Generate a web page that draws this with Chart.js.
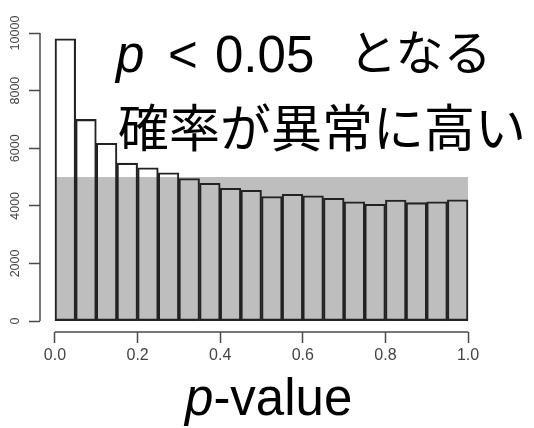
<!DOCTYPE html>
<html>
<head>
<meta charset="utf-8">
<script src="https://cdn.jsdelivr.net/npm/chart.js@4.4.1/dist/chart.umd.min.js"></script>
<style>
  html, body { margin: 0; padding: 0; background: #fff; }
  #wrap { position: relative; width: 534px; height: 428px; overflow: hidden; }
  #wrap canvas { position: absolute; left: 0; top: 0; }
  .txt { position: absolute; white-space: nowrap; color: #000; line-height: 1; }
  .lat { font-family: "Liberation Sans", Arial, sans-serif; }
  .jp { font-family: "Noto Sans CJK JP", sans-serif; }
</style>
</head>
<body>
<div id="wrap">
  <canvas id="pvalChart" width="534" height="428"></canvas>
  <!-- annotation, line 1: "p < 0.05 となる" -->
  <div class="txt lat" style="left:116px; top:29px; font-size:51px;"><i>p</i></div>
  <div class="txt lat" style="left:168px; top:29px; font-size:51px;">&lt;</div>
  <div class="txt lat" style="left:215px; top:29px; font-size:51px;">0.05</div>
  <div class="txt jp" style="left:349px; top:25px; font-size:48px;">となる</div>
  <!-- annotation, line 2 -->
  <div class="txt jp" style="left:118px; top:100px; font-size:51px;">確率が異常に高い</div>
  <!-- x axis title -->
  <div class="txt lat" style="left:185px; top:372px; font-size:51px;"><i>p</i>-value</div>
</div>
<script>
(function() {
    // histogram of p-values, 20 bins of width 0.05
    const binMids = [0.025, 0.075, 0.125, 0.175, 0.225, 0.275, 0.325, 0.375, 0.425, 0.475,
                     0.525, 0.575, 0.625, 0.675, 0.725, 0.775, 0.825, 0.875, 0.925, 0.975];
    const counts = [9800, 7000, 6170, 5480, 5320, 5150, 4950, 4780, 4610, 4540,
                    4320, 4400, 4350, 4260, 4140, 4050, 4200, 4110, 4140, 4210];
    // expected count under a uniform distribution
    const uniformLevel = 5000;
    const uniformRange = [0, 1];

    const xTicks = [0, 0.2, 0.4, 0.6, 0.8, 1.0];
    const xTickLabels = ['0.0', '0.2', '0.4', '0.6', '0.8', '1.0'];
    const yTicks = [0, 2000, 4000, 6000, 8000, 10000];
    const yTickLabels = ['0', '2000', '4000', '6000', '8000', '10000'];

    const axisColor = '#4a4a4a';
    const labelColor = '#444';

    // R-style axes: lines only between first and last tick, y labels rotated
    const rAxes = {
        id: 'rAxes',
        afterDraw(chart) {
            const { ctx, chartArea, scales: { x, y } } = chart;
            ctx.save();
            ctx.strokeStyle = axisColor;
            ctx.lineWidth = 1.5;
            ctx.beginPath();
            ctx.moveTo(chartArea.left, y.getPixelForValue(yTicks[0]));
            ctx.lineTo(chartArea.left, y.getPixelForValue(yTicks[yTicks.length - 1]));
            ctx.moveTo(x.getPixelForValue(xTicks[0]), chartArea.bottom);
            ctx.lineTo(x.getPixelForValue(xTicks[xTicks.length - 1]), chartArea.bottom);
            ctx.stroke();

            ctx.fillStyle = labelColor;
            ctx.font = '12.5px "Liberation Sans", Arial, sans-serif';
            ctx.textAlign = 'center';
            ctx.textBaseline = 'middle';
            y.ticks.forEach((t, i) => {
                ctx.save();
                ctx.translate(15.5, y.getPixelForValue(t.value));
                ctx.rotate(-Math.PI / 2);
                ctx.fillText(yTickLabels[i], 0, 0);
                ctx.restore();
            });
            ctx.restore();
        }
    };

    new Chart(document.getElementById('pvalChart'), {
        type: 'bar',
        data: {
            datasets: [{
                type: 'line',
                label: 'uniform',
                data: uniformRange.map(v => ({ x: v, y: uniformLevel })),
                backgroundColor: '#bebebe',
                borderWidth: 0,
                pointRadius: 0,
                fill: 'origin',
                order: 2
            }, {
                label: 'count',
                data: binMids.map((m, i) => ({ x: m, y: counts[i] })),
                backgroundColor: 'rgba(0,0,0,0)',
                borderColor: '#222',
                borderWidth: 1.4,
                borderSkipped: false,
                barPercentage: 1,
                categoryPercentage: 1,
                order: 1
            }]
        },
        options: {
            responsive: false,
            animation: false,
            layout: { padding: { left: 0, right: 54, top: 33, bottom: 0 } },
            plugins: {
                legend: { display: false },
                tooltip: { enabled: false },
                title: { display: false }
            },
            scales: {
                x: {
                    type: 'linear',
                    min: -0.0363,
                    max: 1.029,
                    offset: false,
                    afterBuildTicks: (scale) => { scale.ticks = xTicks.map(v => ({ value: v })); },
                    afterFit: (scale) => { scale.height = 96; },
                    border: { display: false },
                    grid: {
                        offset: false,
                        drawOnChartArea: false,
                        drawTicks: true,
                        tickLength: 11,
                        tickWidth: 1.5,
                        tickColor: axisColor
                    },
                    ticks: {
                        padding: 3,
                        color: labelColor,
                        font: { family: '"Liberation Sans", Arial, sans-serif', size: 16 },
                        maxRotation: 0,
                        callback: (value, index) => xTickLabels[index]
                    }
                },
                y: {
                    type: 'linear',
                    min: -380,
                    max: 10000,
                    afterBuildTicks: (scale) => { scale.ticks = yTicks.map(v => ({ value: v })); },
                    afterFit: (scale) => { scale.width = 40; },
                    border: { display: false },
                    grid: {
                        drawOnChartArea: false,
                        drawTicks: true,
                        tickLength: 11,
                        tickWidth: 1.5,
                        tickColor: axisColor
                    },
                    ticks: { display: false }
                }
            }
        },
        plugins: [rAxes]
    });
})();
</script>
</body>
</html>
